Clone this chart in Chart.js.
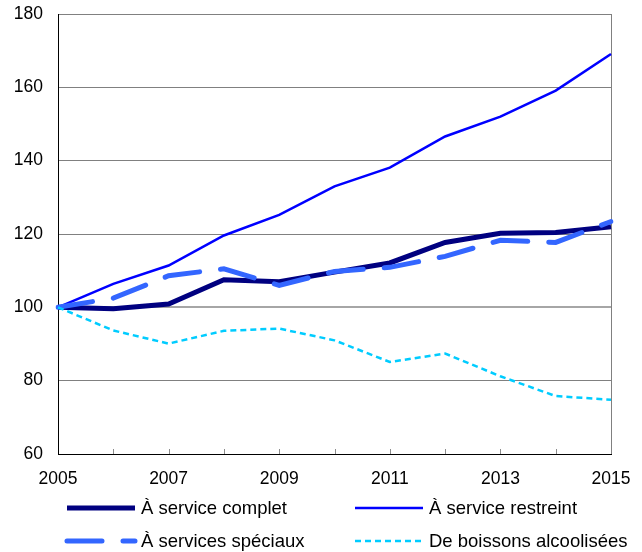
<!DOCTYPE html>
<html>
<head>
<meta charset="utf-8">
<script src="https://cdn.jsdelivr.net/npm/chart.js@4/dist/chart.umd.min.js"></script>
<style>
  html, body { margin: 0; padding: 0; background: #fff; }
  #wrap { width: 642px; height: 552px; }
</style>
</head>
<body>
<div id="wrap"><canvas id="chart" width="642" height="552"></canvas></div>
<script>
// --- Data (index, 2005 = 100) ---
const years = ['2005','2006','2007','2008','2009','2010','2011','2012','2013','2014','2015'];
const serviceComplet   = [100, 99.6, 100.9, 107.5, 107.0, 109.6, 112.1, 117.7, 120.2, 120.4, 122.0];
const serviceRestreint = [100, 106.4, 111.4, 119.6, 125.2, 133.0, 138.1, 146.6, 152.0, 159.1, 169.1];
const servicesSpeciaux = [100, 102.5, 108.6, 110.5, 106.0, 109.8, 110.9, 113.9, 118.3, 117.7, 123.4];
const boissonsAlcool   = [100, 93.7, 90.1, 93.6, 94.2, 91.0, 85.1, 87.4, 81.2, 75.8, 74.8];
const yTicks = [60, 80, 100, 120, 140, 160, 180];

const FONT = '"Liberation Sans", Arial, sans-serif';

// --- Small tick marks inside the plot along the bottom axis ---
const innerTicks = {
    id: 'innerTicks',
    afterDatasetsDraw(chart) {
        const { ctx, chartArea, scales } = chart;
        ctx.save();
        ctx.strokeStyle = '#8c8c8c';
        ctx.lineWidth = 1;
        years.forEach((y, i) => {
            if (i === 0 || i === years.length - 1) return;
            const x = Math.round(scales.x.getPixelForValue(i)) + 0.5;
            ctx.beginPath();
            ctx.moveTo(x, chartArea.bottom);
            ctx.lineTo(x, chartArea.bottom - 5);
            ctx.stroke();
        });
        ctx.restore();
    }
};

// --- Two-column legend under the chart ---
const legendItems = [
    { ds: 0, x: 67, y: 508 },
    { ds: 1, x: 355, y: 508 },
    { ds: 2, x: 67, y: 541 },
    { ds: 3, x: 355, y: 541 }
];
const legendPlugin = {
    id: 'customLegend',
    afterDraw(chart) {
        const ctx = chart.ctx;
        ctx.save();
        legendItems.forEach(item => {
            const ds = chart.data.datasets[item.ds];
            ctx.strokeStyle = ds.borderColor;
            ctx.lineWidth = ds.borderWidth;
            ctx.lineCap = ds.borderCapStyle || 'butt';
            ctx.setLineDash(ds.borderDash || []);
            ctx.beginPath();
            ctx.moveTo(item.x, item.y);
            ctx.lineTo(item.x + 68, item.y);
            ctx.stroke();
            ctx.setLineDash([]);
            ctx.fillStyle = '#000';
            ctx.font = '18.5px ' + FONT;
            ctx.textBaseline = 'middle';
            ctx.textAlign = 'left';
            ctx.fillText(ds.label, item.x + 74, item.y + 1);
        });
        ctx.restore();
    }
};

new Chart(document.getElementById('chart'), {
    type: 'line',
    data: {
        labels: years,
        datasets: [
            {
                label: 'À service complet',
                data: serviceComplet,
                borderColor: '#000080',
                borderWidth: 5,
                order: 2
            },
            {
                label: 'À service restreint',
                data: serviceRestreint,
                borderColor: '#0000ff',
                borderWidth: 2.5,
                order: 3
            },
            {
                label: 'À services spéciaux',
                data: servicesSpeciaux,
                borderColor: '#3366ff',
                borderWidth: 5,
                borderDash: [35, 21],
                borderCapStyle: 'round',
                order: 1
            },
            {
                label: 'De boissons alcoolisées',
                data: boissonsAlcool,
                borderColor: '#00ccff',
                borderWidth: 2.5,
                borderDash: [6, 4],
                order: 0
            }
        ]
    },
    options: {
        responsive: false,
        animation: false,
        events: [],
        layout: { padding: { top: 14, right: 31, bottom: 68, left: 0 } },
        elements: {
            point: { radius: 0 },
            line: { tension: 0, fill: false }
        },
        plugins: {
            legend: { display: false },
            tooltip: { enabled: false }
        },
        scales: {
            x: {
                offset: false,
                afterFit: s => { s.height = 30; s.paddingLeft = 0; s.paddingRight = 0; },
                grid: {
                    drawTicks: false,
                    color: c => (c.index === years.length - 1 ? '#808080' : 'rgba(0,0,0,0)'),
                    lineWidth: 1
                },
                border: { color: '#000', width: 1 },
                ticks: {
                    autoSkip: false,
                    maxRotation: 0,
                    padding: 15,
                    color: '#000',
                    font: { family: FONT, size: 17.5 },
                    callback: (v, i) => (i % 2 === 0 ? years[i] : '')
                }
            },
            y: {
                min: yTicks[0],
                max: yTicks[yTicks.length - 1],
                afterFit: s => { s.width = 58; s.paddingTop = 0; s.paddingBottom = 0; },
                afterBuildTicks: s => { s.ticks = yTicks.map(v => ({ value: v })); },
                grid: {
                    drawTicks: false,
                    color: c => (c.tick && c.tick.value === 100 ? '#a6a6a6' : '#808080'),
                    lineWidth: c => (c.tick && c.tick.value === 100 ? 2 : 1)
                },
                border: { color: '#000', width: 1 },
                ticks: {
                    padding: 15,
                    color: '#000',
                    font: { family: FONT, size: 17.5 }
                }
            }
        }
    },
    plugins: [innerTicks, legendPlugin]
});
</script>
</body>
</html>
